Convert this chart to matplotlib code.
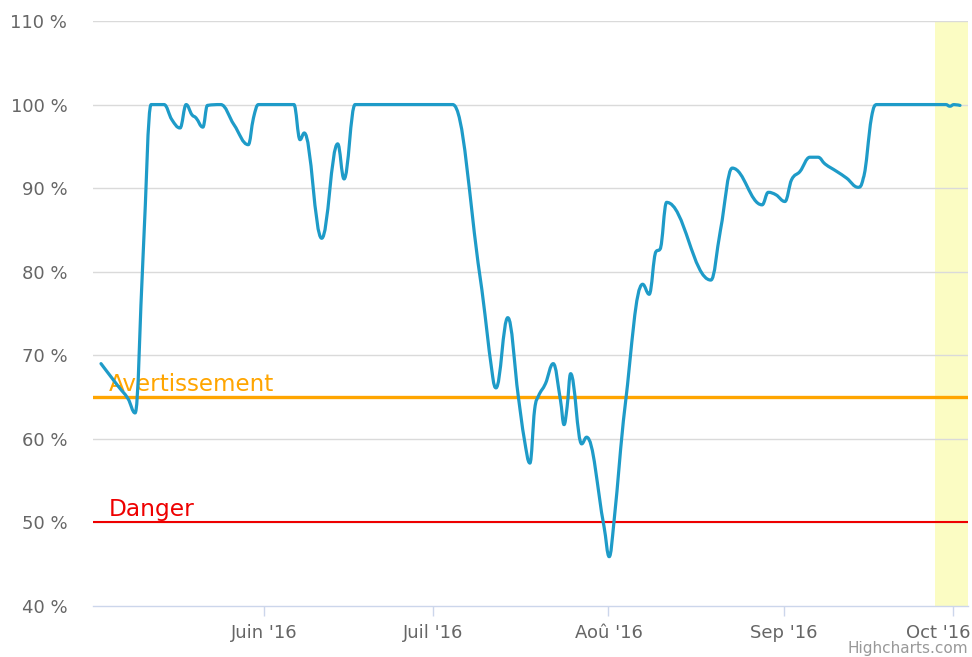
import numpy as np
import pandas as pd
import matplotlib
matplotlib.use("Agg")
import matplotlib.pyplot as plt
import matplotlib.dates as mdates
import matplotlib.transforms as mtransforms
from matplotlib.path import Path
from matplotlib.patches import PathPatch

# Availability measurements (timestamp, percent)
timestamps = [
    "2016-05-03 03:00", "2016-05-06 04:00", "2016-05-07 22:00", "2016-05-09 04:00",
    "2016-05-10 14:00", "2016-05-12 00:00", "2016-05-14 07:00", "2016-05-15 16:00",
    "2016-05-17 03:00", "2016-05-18 05:00", "2016-05-19 05:00", "2016-05-19 23:00",
    "2016-05-21 04:00", "2016-05-21 23:00", "2016-05-24 08:00", "2016-05-26 16:00",
    "2016-05-29 05:00", "2016-05-30 03:00", "2016-05-31 00:00", "2016-06-06 07:00",
    "2016-06-07 09:00", "2016-06-08 03:00", "2016-06-11 05:00", "2016-06-14 01:00",
    "2016-06-15 04:00", "2016-06-17 03:00", "2016-07-04 10:00", "2016-07-09 06:00",
    "2016-07-11 12:00", "2016-07-12 02:00", "2016-07-14 04:00", "2016-07-16 01:00",
    "2016-07-17 02:00", "2016-07-18 02:00", "2016-07-18 22:00", "2016-07-19 14:00",
    "2016-07-20 20:00", "2016-07-22 05:00", "2016-07-23 12:00", "2016-07-24 03:00",
    "2016-07-24 16:00", "2016-07-25 07:00", "2016-07-27 06:00", "2016-07-28 03:00",
    "2016-07-31 05:00", "2016-08-01 03:00", "2016-08-01 23:00", "2016-08-03 22:00",
    "2016-08-07 01:00", "2016-08-08 05:00", "2016-08-09 10:00", "2016-08-10 03:00",
    "2016-08-11 07:00", "2016-08-19 03:00", "2016-08-20 20:00", "2016-08-22 22:00",
    "2016-08-28 05:00", "2016-08-29 07:00", "2016-08-30 16:00", "2016-09-01 06:00",
    "2016-09-02 10:00", "2016-09-03 22:00", "2016-09-05 16:00", "2016-09-07 03:00",
    "2016-09-08 08:00", "2016-09-10 10:00", "2016-09-12 04:00", "2016-09-14 05:00",
    "2016-09-15 03:00", "2016-09-16 14:00", "2016-09-17 12:00", "2016-09-29 18:00",
    "2016-09-30 11:00", "2016-10-01 04:00", "2016-10-02 06:00",
]
availability = [
    69.0, 66.3, 64.8, 63.1,
    82.0, 100.0, 100.0, 98.2,
    97.2, 100.0, 98.8, 98.4,
    97.3, 99.9, 100.0, 97.6,
    95.2, 98.4, 100.0, 100.0,
    95.8, 96.6, 84.0, 95.3,
    91.1, 100.0, 100.0, 79.4,
    67.4, 66.1, 74.5, 65.0,
    60.0, 57.1, 63.5, 65.1,
    66.6, 69.0, 64.6, 61.7,
    63.8, 67.8, 59.4, 60.2,
    49.5, 45.9, 50.0, 63.8,
    78.5, 77.3, 82.4, 82.7,
    88.3, 79.0, 85.0, 92.4,
    88.0, 89.5, 89.2, 88.4,
    91.0, 92.0, 93.7, 93.7,
    92.9, 92.0, 91.2, 90.1,
    91.2, 98.5, 100.0, 100.0,
    99.8, 100.0, 99.9,
]

warning_level = 65
warning_label = "Avertissement"
danger_level = 50
danger_label = "Danger"

month_ticks = ["2016-06-01", "2016-07-01", "2016-08-01", "2016-09-01", "2016-10-01"]
month_labels = ["Juin '16", "Juil '16", "Aoû '16", "Sep '16", "Oct '16"]
y_ticks = [40, 50, 60, 70, 80, 90, 100, 110]

x_range = ("2016-05-01 17:00", "2016-10-03 16:00")
band_range = ("2016-09-27 19:00", "2016-10-04 00:00")

LINE_COLOR = "#1e9bc8"
GRID_COLOR = "#dadada"
AXIS_COLOR = "#ccd6eb"
LABEL_COLOR = "#666666"


def spline_path(x, y, smoothing=1.5):
    """Smooth curve through the points using bezier control points."""
    denom = smoothing + 1.0
    n = len(x)
    left = [None] * n
    right = [None] * n
    for i in range(1, n - 1):
        lx, ly = x[i - 1], y[i - 1]
        px, py = x[i], y[i]
        nx, ny = x[i + 1], y[i + 1]
        lcx = (smoothing * px + lx) / denom
        lcy = (smoothing * py + ly) / denom
        rcx = (smoothing * px + nx) / denom
        rcy = (smoothing * py + ny) / denom
        if rcx != lcx:
            corr = ((rcy - lcy) * (rcx - px)) / (rcx - lcx) + py - rcy
            lcy += corr
            rcy += corr
            if lcy > max(ly, py):
                lcy = max(ly, py)
                rcy = 2 * py - lcy
            elif lcy < min(ly, py):
                lcy = min(ly, py)
                rcy = 2 * py - lcy
            if rcy > max(py, ny):
                rcy = max(py, ny)
                lcy = 2 * py - rcy
            elif rcy < min(py, ny):
                rcy = min(py, ny)
                lcy = 2 * py - rcy
        left[i] = (lcx, lcy)
        right[i] = (rcx, rcy)
    verts = [(x[0], y[0])]
    codes = [Path.MOVETO]
    for i in range(1, n):
        c1 = right[i - 1] if right[i - 1] is not None else (x[i - 1], y[i - 1])
        c2 = left[i] if left[i] is not None else (x[i], y[i])
        verts += [c1, c2, (x[i], y[i])]
        codes += [Path.CURVE4] * 3
    return Path(verts, codes)


xs = mdates.date2num(pd.to_datetime(timestamps))
ys = np.asarray(availability, dtype=float)

fig = plt.figure(figsize=(9.72, 6.57), dpi=100)
ax = fig.add_axes([93 / 972, 1 - 606 / 657, 875 / 972, 585 / 657])

x0, x1 = mdates.date2num(pd.to_datetime(list(x_range)))
ax.set_xlim(x0, x1)
ax.set_ylim(40, 110)

# highlighted period
b0, b1 = mdates.date2num(pd.to_datetime(list(band_range)))
ax.axvspan(b0, b1, color="#fbfcc3", zorder=0, lw=0)

# horizontal grid
for v in y_ticks[1:]:
    ax.axhline(v, color=GRID_COLOR, lw=1.0, zorder=1)

# threshold lines
ax.axhline(warning_level, color="#ffa500", lw=2.4, zorder=2)
ax.axhline(danger_level, color="#ee0000", lw=1.5, zorder=2)
lbl_tr = mtransforms.blended_transform_factory(ax.transAxes, ax.transData)
ax.text(16 / 875, warning_level + 0.75, warning_label, transform=lbl_tr,
        color="#ffa500", fontsize=16.6, va="baseline", ha="left", zorder=3)
ax.text(16 / 875, danger_level + 0.75, danger_label, transform=lbl_tr,
        color="#ee0000", fontsize=16.8, va="baseline", ha="left", zorder=3)

# availability curve
ax.add_patch(PathPatch(spline_path(xs, ys), facecolor="none",
                       edgecolor=LINE_COLOR, lw=2.3, capstyle="round",
                       joinstyle="round", zorder=4))

for s in ["top", "right", "left"]:
    ax.spines[s].set_visible(False)
ax.spines["bottom"].set_color(AXIS_COLOR)
ax.spines["bottom"].set_linewidth(1.0)

ax.set_yticks(y_ticks)
ax.set_yticklabels([f"{v} %" for v in y_ticks], color=LABEL_COLOR, fontsize=13)
ax.tick_params(axis="y", length=0, pad=18.5)

ax.set_xticks(mdates.date2num(pd.to_datetime(month_ticks)))
ax.set_xticklabels(month_labels, color=LABEL_COLOR, fontsize=13)
ax.tick_params(axis="x", length=7, width=1, color=AXIS_COLOR, pad=6)

# keep the last month label inside the figure
last = ax.get_xticklabels()[-1]
last.set_transform(last.get_transform() +
                   mtransforms.ScaledTranslation(-15 / 100, 0, fig.dpi_scale_trans))

fig.text(968 / 972, 1 - 649 / 657, "Highcharts.com", color="#999999",
         fontsize=11, ha="right", va="center")

fig.savefig("out.png", dpi=100, facecolor="white")
